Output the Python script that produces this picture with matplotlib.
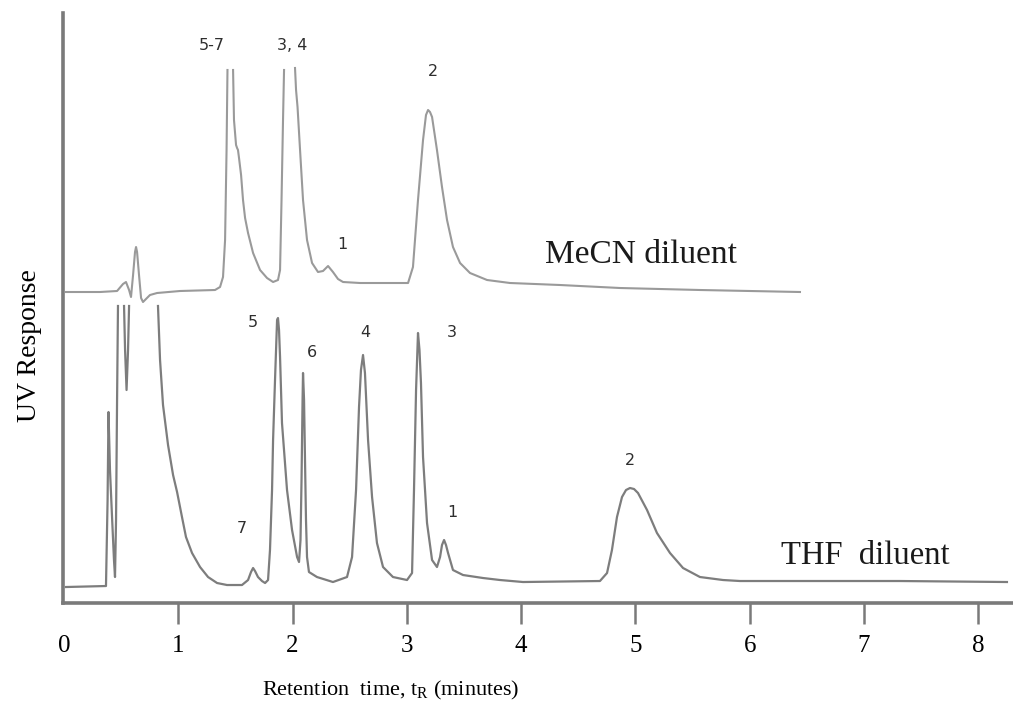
import numpy as np
import matplotlib.pyplot as plt

# MeCN diluent trace (time in minutes, response relative to its own baseline)
# nan marks where the saturated peaks run off the top of the plot
mecn_time = [0.017, 0.315, 0.464, 0.516, 0.542, 0.569, 0.586, 0.604, 0.621, 0.630,
             0.639, 0.656, 0.674, 0.691, 0.717, 0.752, 0.814, 1.015, 1.321, 1.365,
             1.391, 1.409, 1.422, 1.430, np.nan, 1.479, 1.487, 1.505, 1.514, 1.522,
             1.531, 1.549, 1.566, 1.584, 1.610, 1.654, 1.715, 1.776, 1.829, 1.872,
             1.890, 1.903, 1.916, 1.925, np.nan, 2.021, 2.030, 2.043, 2.065, 2.091,
             2.126, 2.170, 2.222, 2.266, 2.310, 2.353, 2.397, 2.441, 2.590, 3.010,
             3.053, 3.097, 3.141, 3.167, 3.185, 3.202, 3.220, 3.263, 3.307, 3.351,
             3.403, 3.465, 3.552, 3.701, 3.902, 4.339, 4.864, 5.564, 6.439]
mecn_resp = [0, 0, 1, 8, 10, 2, -5, 17, 40, 45,
             40, 17, -6, -10, -7, -3, -1, 1, 2, 5,
             15, 52, 142, 222, np.nan, 222, 172, 147, 144, 142,
             134, 117, 92, 74, 59, 39, 22, 14, 10, 12,
             22, 92, 172, 222, np.nan, 224, 202, 185, 142, 92,
             52, 29, 20, 21, 26, 20, 13, 10, 9, 9,
             25, 92, 152, 177, 182, 180, 175, 142, 105, 72,
             45, 29, 19, 12, 9, 7, 4, 2, 0]
mecn_offset = 311

# THF diluent trace
thf_time = [0.017, 0.367, 0.381, 0.389, 0.402, 0.420, 0.437, 0.446, 0.455, 0.464,
            0.472, np.nan, 0.525, 0.534, 0.547, 0.560, 0.569, np.nan, 0.822, 0.840,
            0.866, 0.910, 0.954, 0.989, 1.032, 1.067, 1.120, 1.190, 1.260, 1.339,
            1.426, 1.557, 1.610, 1.636, 1.654, 1.671, 1.697, 1.732, 1.759, 1.785,
            1.802, 1.820, 1.829, 1.846, 1.864, 1.872, 1.881, 1.890, 1.907, 1.951,
            1.995, 2.039, 2.056, 2.069, 2.078, 2.087, 2.091, 2.100, 2.108, 2.117,
            2.126, 2.143, 2.213, 2.353, 2.476, 2.520, 2.555, 2.581, 2.598, 2.616,
            2.633, 2.660, 2.695, 2.738, 2.791, 2.878, 3.001, 3.045, 3.062, 3.080,
            3.097, 3.110, 3.123, 3.141, 3.176, 3.220, 3.263, 3.290, 3.307, 3.325,
            3.342, 3.360, 3.403, 3.491, 3.666, 3.815, 4.016, 4.689, 4.751, 4.794,
            4.838, 4.882, 4.917, 4.952, 4.987, 5.022, 5.101, 5.188, 5.302, 5.416,
            5.564, 5.766, 5.914, 6.439, 7.314, 8.250]
thf_resp = [-1, 0, 86, 174, 116, 69, 26, 9, 66, 186,
            280, np.nan, 280, 236, 196, 236, 280, np.nan, 280, 226,
            181, 141, 111, 94, 69, 49, 33, 19, 9, 3,
            1, 1, 6, 14, 18, 15, 9, 5, 3, 6,
            36, 96, 146, 206, 266, 268, 256, 229, 163, 96,
            56, 29, 24, 46, 106, 186, 213, 186, 129, 66,
            29, 14, 9, 4, 9, 29, 96, 179, 216, 231,
            213, 146, 89, 43, 19, 9, 6, 13, 96, 196,
            253, 236, 203, 129, 63, 26, 19, 29, 41, 46,
            41, 33, 16, 11, 8, 6, 4, 5, 13, 36,
            69, 89, 96, 98, 97, 93, 76, 53, 33, 18,
            9, 6, 5, 5, 5, 4]
thf_offset = 17

# peak labels: (text, time, response)
mecn_peak_labels = ['5-7', '3, 4', '1', '2']
mecn_peak_time = [1.295, 1.995, 2.432, 3.228]
mecn_peak_resp = [557, 557, 358, 531]

thf_peak_labels = ['7', '5', '6', '4', '3', '1', '2']
thf_peak_time = [1.557, 1.654, 2.170, 2.633, 3.395, 3.395, 4.952]
thf_peak_resp = [75, 281, 251, 271, 271, 91, 143]

x_ticks = [0, 1, 2, 3, 4, 5, 6, 7, 8]

serif = ['Liberation Serif', 'DejaVu Serif']
axis_grey = '#7a7a7a'

fig = plt.figure(figsize=(10.13, 7.02), dpi=100)
ax = fig.add_axes([0.0622, 0.141, 0.9378, 0.8405])

mt = np.array(mecn_time)
mr = np.array(mecn_resp) + mecn_offset
tt = np.array(thf_time)
tr = np.array(thf_resp) + thf_offset

ax.plot(mt, mr, color='#9a9a9a', lw=1.5, solid_joinstyle='round')
ax.plot(tt, tr, color='#7d7d7d', lw=1.6, solid_joinstyle='round')

for lab, t, r in zip(mecn_peak_labels, mecn_peak_time, mecn_peak_resp):
    ax.text(t, r, lab, ha='center', va='center', fontsize=11.5, color='#2e2e2e',
            family='DejaVu Sans')
for lab, t, r in zip(thf_peak_labels, thf_peak_time, thf_peak_resp):
    ax.text(t, r, lab, ha='center', va='center', fontsize=11.5, color='#2e2e2e',
            family='DejaVu Sans')

ax.text(5.048, 348, 'MeCN diluent', ha='center', va='center', fontsize=24,
        family=serif, color='#1a1a1a')
ax.text(7.008, 47, 'THF  diluent', ha='center', va='center', fontsize=23.5,
        family=serif, color='#1a1a1a')

ax.set_xlim(-0.009, 8.303)
ax.set_ylim(0, 590)

# axes: only left and bottom, grey and heavy
for side in ['top', 'right']:
    ax.spines[side].set_visible(False)
for side in ['left', 'bottom']:
    ax.spines[side].set_color(axis_grey)
    ax.spines[side].set_linewidth(2.6)

ax.set_yticks([])
ax.set_xticks(x_ticks)
ax.set_xticklabels([str(v) for v in x_ticks], family=serif, fontsize=18)
ax.tick_params(axis='x', direction='out', length=15, width=1.8,
               color=axis_grey, pad=8)
ax.xaxis.get_major_ticks()[0].tick1line.set_visible(False)

plt.rcParams['mathtext.default'] = 'regular'
ax.set_xlabel('Retention  time, t$_\\mathregular{R}$ (minutes)', family=serif,
              fontsize=16)
ax.xaxis.set_label_coords(0.345, -0.128)
ax.set_ylabel('UV Response', family=serif, fontsize=20)
ax.yaxis.set_label_coords(-0.022, 0.437)

fig.savefig('out.png', dpi=100)
plt.close(fig)
